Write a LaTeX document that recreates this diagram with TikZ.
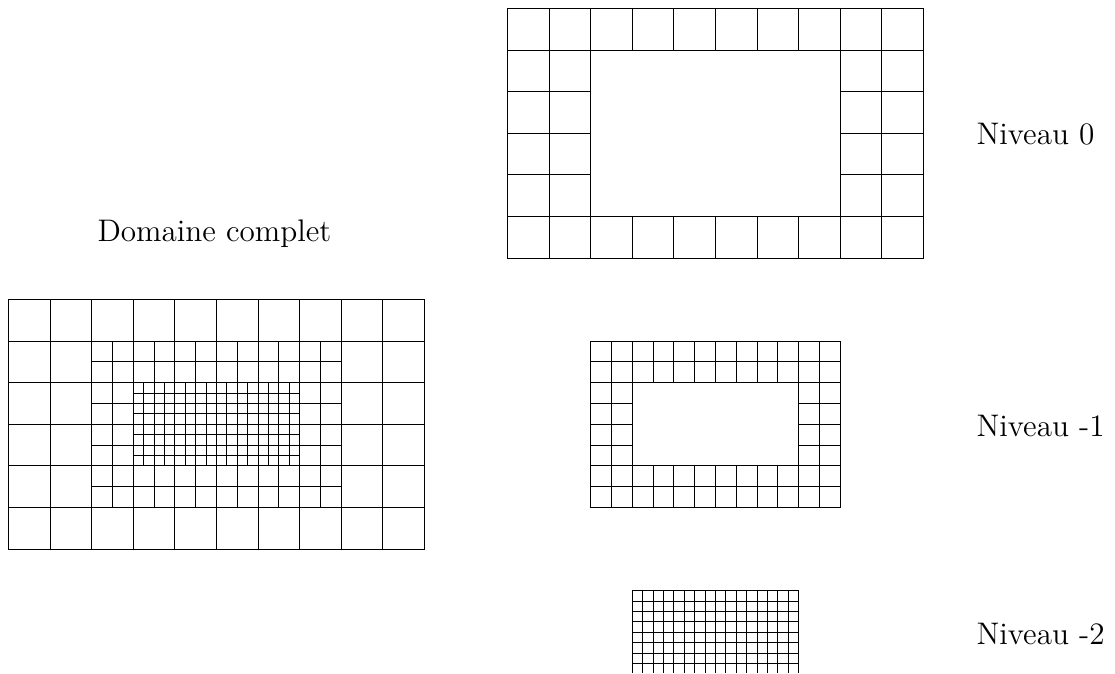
\documentclass[tikz,border=0pt]{standalone}
\newcommand{\meshring}[7]{% x0, y0, cell size, columns, rows, hole margin x, hole margin y
  \pgfmathtruncatemacro{\lastc}{#4-1}
  \pgfmathtruncatemacro{\lastr}{#5-1}
  \foreach \c in {0,...,\lastc}{
    \foreach \r in {0,...,\lastr}{
      \pgfmathtruncatemacro{\inhole}{(\c>=#6)&&(\c<#4-#6)&&(\r>=#7)&&(\r<#5-#7)}
      \ifnum\inhole=0
        \draw[meshline] ({#1+\c*#3},{#2+\r*#3}) rectangle ++(#3,#3);
      \fi
    }
  }
}
\tikzset{
  meshline/.style={black,line width=0.9pt},
  label/.style={inner sep=0pt,anchor=base west,scale=2.6,font=\fontsize{12}{14}\selectfont}
}
\begin{document}
\begin{tikzpicture}[x=1pt,y=-1pt]
\useasboundingbox (0,0) rectangle (1115,673);
% Complete domain
\meshring{8.5}{299.5}{41.6}{10}{6}{2}{1}
\meshring{91.7}{341.1}{20.8}{12}{8}{2}{2}
\meshring{133.3}{382.7}{10.4}{16}{8}{8}{4}
% Level 0
\meshring{507.5}{8.5}{41.6}{10}{6}{2}{1}
% Level -1
\meshring{590.7}{341.1}{20.8}{12}{8}{2}{2}
% Level -2, cut off by the lower edge of the picture
\begin{scope}
\clip (600,580) rectangle (830,672.6);
\meshring{632.3}{590.7}{10.4}{16}{8}{8}{4}
\end{scope}
\node[label] (domaine) at (97,241) {Domaine complet};
\node[label] (n0) at (976,144) {Niveau 0};
\node[label] (n1) at (976,436.5) {Niveau -1};
\node[label] (n2) at (976,644.5) {Niveau -2};
\end{tikzpicture}
\end{document}
